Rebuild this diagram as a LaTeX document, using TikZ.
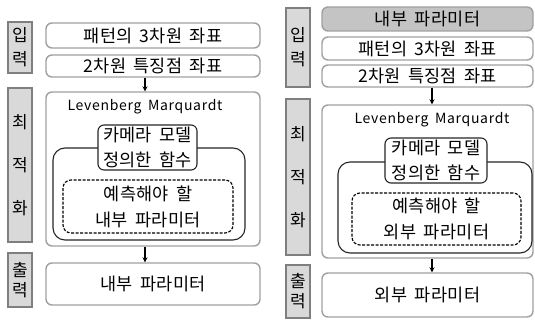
\documentclass[tikz,border=0pt]{standalone}
\usepackage{fontspec}
\setmainfont[WordSpace=1.7]{Noto Sans CJK KR}
\usetikzlibrary{arrows.meta}
\definecolor{lblfill}{HTML}{D9D9D9}
\definecolor{lbldraw}{HTML}{7F7F7F}
\definecolor{boxdraw}{HTML}{A0A0A0}
\definecolor{grayfill}{HTML}{C4C4C4}
\tikzset{
  lbl/.style={draw=lbldraw, line width=1.8pt, fill=lblfill, inner sep=0pt, align=center, font=\fontsize{17}{19}\selectfont, minimum width=24pt},
  box/.style={draw=boxdraw, line width=1.4pt, rounded corners=6pt, fill=white, inner sep=0pt, align=center, font=\fontsize{17.5}{19}\selectfont\addfontfeature{LetterSpace=2}},
  inbox/.style={draw=black!85, line width=1.1pt, rounded corners=12pt},
  dbox/.style={draw=black, line width=1.1pt, dash pattern=on 3pt off 1.5pt, rounded corners=8pt, align=center, font=\fontsize{17.5}{26}\selectfont\addfontfeature{LetterSpace=2}},
  cbox/.style={draw=black!85, line width=1.1pt, fill=white, rounded corners=6pt, inner sep=0pt, align=center, font=\fontsize{17.5}{25}\selectfont\addfontfeature{LetterSpace=2}},
  arr/.style={-{Stealth[length=5pt,width=5pt]}, line width=1.1pt},
  lmtxt/.style={font=\fontsize{14}{16}\selectfont\addfontfeature{LetterSpace=5}, inner sep=0pt}
}
\begin{document}
\begin{tikzpicture}[x=1pt,y=-1pt]
\useasboundingbox (0,0) rectangle (535,320);
% ---------- left panel ----------
\node[lbl, minimum height=51pt] (inL) at (20,47.5) {입\\[5pt]력};
\node[box, minimum width=214pt, minimum height=25pt] (a1) at (153,35.5) {패턴의 3차원 좌표};
\node[box, minimum width=214pt, minimum height=22pt] (a2) at (153,66) {2차원 특징점 좌표};
\node[lbl, minimum height=154pt] (optL) at (20,165) {최\\[24pt]적\\[24pt]화};
\node[box, minimum width=214pt, minimum height=154pt] (lm) at (153,169) {};
\node[lmtxt] (lmt) at (145,107) {Levenberg Marquardt};
\node[inbox, minimum width=192pt, minimum height=92pt] (inner) at (149,194) {};
\node[dbox, minimum width=170pt, minimum height=53pt] (dash) at (148,206.5) {예측해야 할\\내부 파라미터};
\node[cbox, minimum width=99pt, minimum height=45pt] (cam) at (147.5,147.5) {카메라 모델\\정의한 함수};
\node[lbl, minimum height=54pt] (outLl) at (20,280) {출\\[1pt]력};
\node[box, minimum width=214pt, minimum height=42pt] (out) at (153,284) {내부 파라미터};
\draw[arr] (a2.south -| lmt) -- (lm.north -| lmt);
\draw[arr] (lm.south -| lmt) -- (out.north -| lmt);
% ---------- right panel ----------
\node[lbl, minimum height=79pt] (inR) at (298,47.5) {입\\[5pt]력};
\node[box, fill=grayfill, minimum width=211pt, minimum height=24pt] (g0) at (427.5,19) {내부 파라미터};
\node[box, minimum width=211pt, minimum height=23pt] (b1) at (427.5,48.5) {패턴의 3차원 좌표};
\node[box, minimum width=211pt, minimum height=22pt] (b2) at (427.5,76) {2차원 특징점 좌표};
\node[lbl, minimum height=156pt] (optR) at (298,177) {최\\[24pt]적\\[24pt]화};
\node[box, minimum width=211pt, minimum height=153pt] (lm2) at (427.5,181.5) {};
\node[lmtxt] (lmt2) at (432,120) {Levenberg Marquardt};
\node[inbox, minimum width=194pt, minimum height=91pt] (inner2) at (435,207.5) {};
\node[dbox, minimum width=169pt, minimum height=52pt] (dash2) at (436.5,219) {예측해야 할\\외부 파라미터};
\node[cbox, minimum width=102pt, minimum height=45pt] (cam2) at (436,160.5) {카메라 모델\\정의한 함수};
\node[lbl, minimum height=53pt] (outRl) at (298,291.5) {출\\[1pt]력};
\node[box, minimum width=211pt, minimum height=44pt] (out2) at (427.5,295) {외부 파라미터};
\draw[arr] (b2.south -| lmt2) -- (lm2.north -| lmt2);
\draw[arr] (lm2.south -| lmt2) -- (out2.north -| lmt2);
\end{tikzpicture}
\end{document}
